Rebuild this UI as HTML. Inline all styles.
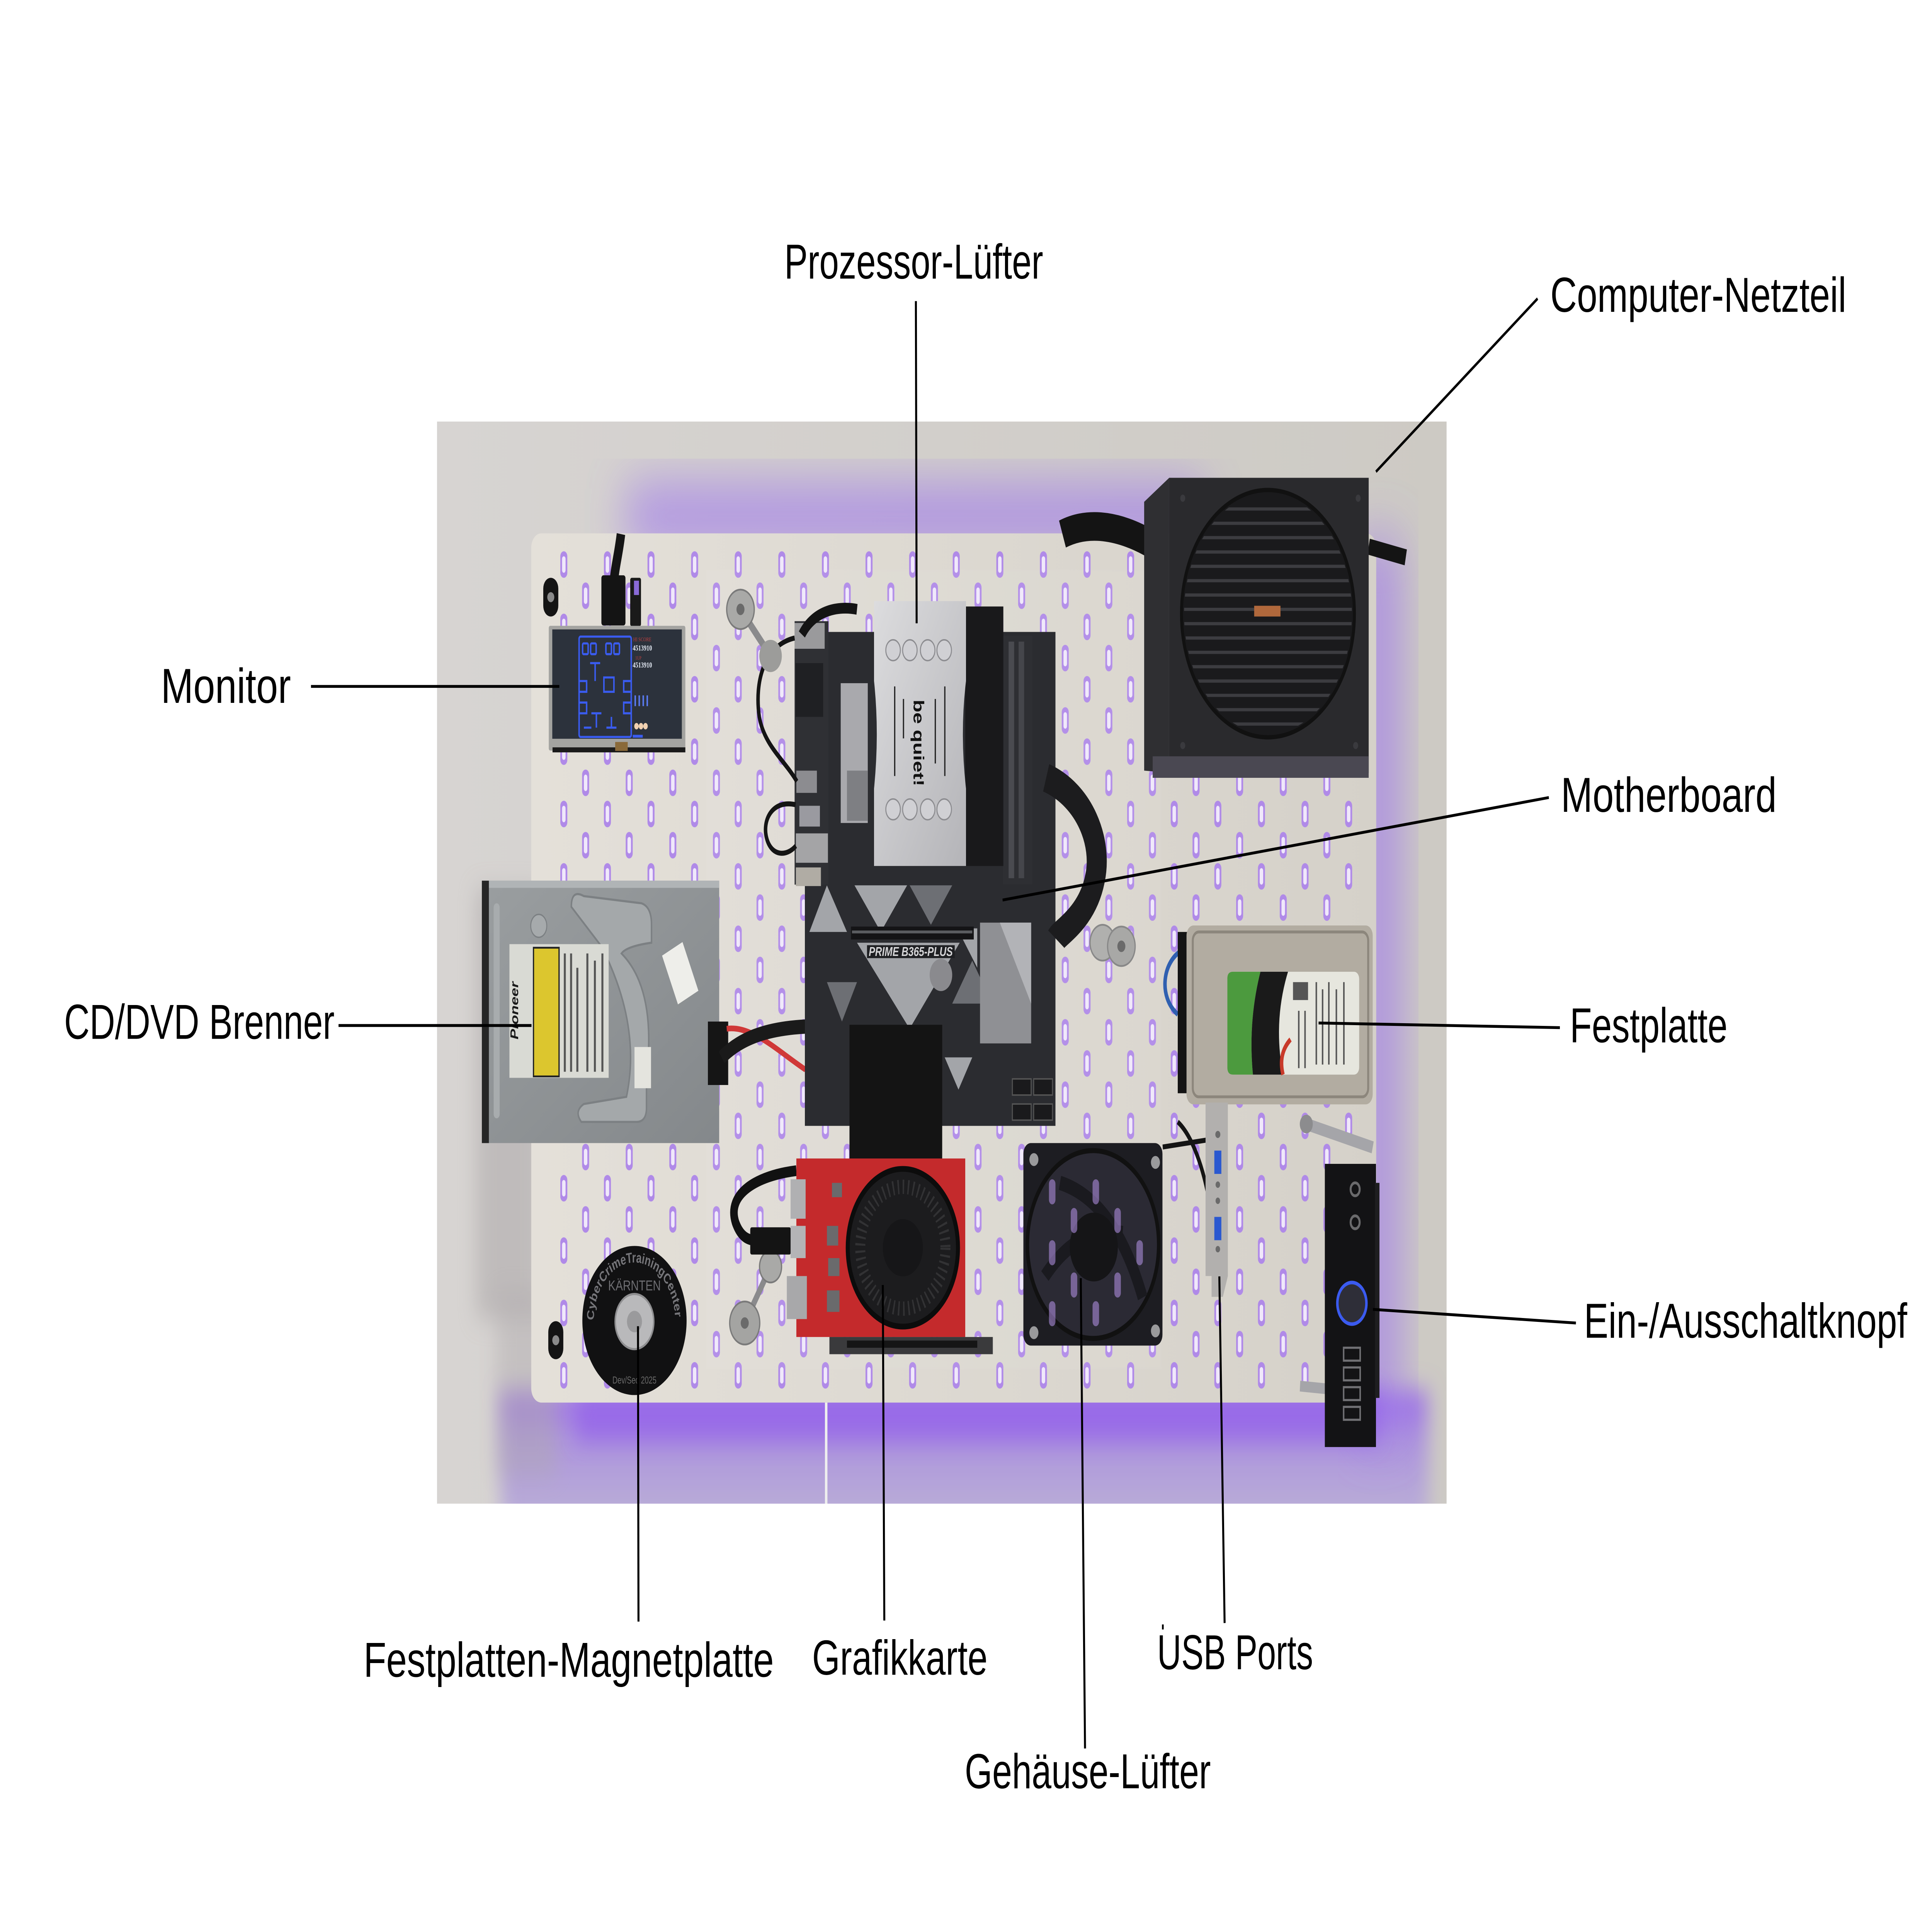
<!DOCTYPE html>
<html><head><meta charset="utf-8">
<style>
html,body{margin:0;padding:0;background:#fff;width:100%;height:100%;overflow:hidden;}
svg{display:block;width:100vw;height:100vh;}
.lbl{font-family:"Liberation Sans",sans-serif;font-size:137px;fill:#000;}
</style></head>
<body>
<svg xmlns="http://www.w3.org/2000/svg" width="100%" height="100%" viewBox="0 0 7710 5390" preserveAspectRatio="none">
<defs>
 <clipPath id="photo"><rect x="1744" y="1176" width="4029" height="3019"/></clipPath>
 <clipPath id="psufan"><circle cx="5060" cy="1712" r="335"/></clipPath>
 <filter id="b1" x="-50%" y="-50%" width="200%" height="200%"><feGaussianBlur stdDeviation="80"/></filter>
 <filter id="b2" x="-50%" y="-50%" width="200%" height="200%"><feGaussianBlur stdDeviation="35"/></filter>
 <linearGradient id="wall" x1="0" y1="0" x2="1" y2="0">
  <stop offset="0" stop-color="#d7d4d2"/><stop offset="1" stop-color="#cdcac4"/>
 </linearGradient>
 <linearGradient id="peg" x1="0" y1="0" x2="1" y2="0">
  <stop offset="0" stop-color="#e4e0d9"/><stop offset="1" stop-color="#d5d1c9"/>
 </linearGradient>
 <linearGradient id="under" x1="0" y1="0" x2="0" y2="1">
  <stop offset="0" stop-color="#9c6fe6"/><stop offset="0.35" stop-color="#ad95dc"/><stop offset="1" stop-color="#bdb4d6"/>
 </linearGradient>
 <linearGradient id="silver" x1="0" y1="0" x2="1" y2="1">
  <stop offset="0" stop-color="#dcdcde"/><stop offset="1" stop-color="#b4b4b8"/>
 </linearGradient>
 <linearGradient id="dvd" x1="0" y1="0" x2="1" y2="1">
  <stop offset="0" stop-color="#9a9ea0"/><stop offset="1" stop-color="#84888b"/>
 </linearGradient>
 <pattern id="slots" patternUnits="userSpaceOnUse" x="2236" y="1538" width="174" height="174">
  <rect x="0" y="0" width="28" height="74" rx="14" fill="#b08ae8"/>
  <rect x="7" y="14" width="14" height="46" rx="7" fill="#f0e8fb"/>
  <rect x="87" y="87" width="28" height="74" rx="14" fill="#b08ae8"/>
  <rect x="94" y="101" width="14" height="46" rx="7" fill="#f0e8fb"/>
 </pattern>
</defs>

<rect x="0" y="0" width="7710" height="5390" fill="#ffffff"/>

<!-- ================= PHOTO ================= -->
<g clip-path="url(#photo)">
 <rect x="1744" y="1176" width="4029" height="3019" fill="url(#wall)"/>
 <rect x="2000" y="3880" width="3700" height="400" fill="url(#under)" filter="url(#b2)"/>
 <rect x="2500" y="1360" width="2300" height="160" fill="#9a6ff0" opacity="0.7" filter="url(#b1)"/>
 <rect x="5420" y="1500" width="160" height="2500" fill="#9a6ff0" opacity="0.7" filter="url(#b1)"/>
 <rect x="2300" y="3880" width="3200" height="140" fill="#9565ea" opacity="0.8" filter="url(#b2)"/>
 <rect x="1900" y="2480" width="260" height="1200" fill="#a9a4a6" opacity="0.5" filter="url(#b2)"/>
 <rect x="1980" y="3600" width="240" height="520" fill="#b0abae" opacity="0.45" filter="url(#b2)"/>

 <!-- pegboard -->
 <rect x="2120" y="1488" width="3372" height="2425" rx="40" fill="url(#peg)"/>
 <rect x="2200" y="1530" width="3230" height="2350" fill="url(#slots)"/>

 <!-- mounting tabs -->
 <rect x="2168" y="1612" width="60" height="108" rx="30" fill="#141414"/>
 <circle cx="2198" cy="1666" r="14" fill="#8a8a8a"/>
 <rect x="2188" y="3686" width="60" height="106" rx="30" fill="#141414"/>
 <circle cx="2218" cy="3739" r="14" fill="#8a8a8a"/>

 <!-- acrylic sheet -->
 <rect x="2818" y="1592" width="1815" height="2226" fill="#ffffff" opacity="0.05" stroke="#f4f2f8" stroke-width="5" stroke-opacity="0.7"/>

 <!-- ===== Monitor ===== -->
 <path d="M2478,1490 C2470,1540 2455,1580 2450,1620" stroke="#151515" stroke-width="34" fill="none"/>
 <rect x="2400" y="1605" width="96" height="140" rx="8" fill="#141414"/>
 <rect x="2515" y="1612" width="43" height="135" rx="6" fill="#1a1a1a"/>
 <rect x="2530" y="1620" width="20" height="40" fill="#8a6ad8"/>
 <rect x="2190" y="1746" width="545" height="348" rx="6" fill="#a3a3a0"/>
 <rect x="2204" y="1756" width="517" height="305" fill="#2c323c"/>
 <rect x="2205" y="2085" width="530" height="14" fill="#1a1a1a"/>
 <rect x="2455" y="2070" width="50" height="25" fill="#8a6a3a"/>
 <g fill="none" stroke="#3a5cf0" stroke-width="6">
  <rect x="2311" y="1776" width="208" height="280" rx="6"/>
  <rect x="2325" y="1795" width="22" height="30" rx="4"/>
  <rect x="2357" y="1795" width="22" height="30" rx="4"/>
  <rect x="2418" y="1795" width="22" height="30" rx="4"/>
  <rect x="2450" y="1795" width="22" height="30" rx="4"/>
  <path d="M2311,1900 h30 v30 h-30 M2519,1900 h-30 v30 h30 M2355,1850 h40 M2375,1850 v50 M2410,1890 h40 v40 h-40 z M2311,1960 h30 v30 h-30 M2519,1960 h-30 v30 h30 M2360,1990 h40 M2380,1990 v40 M2420,2030 h40 M2440,2000 v30 M2330,2030 h30"/>
 </g>
 <text x="2527" y="1789" font-family="Liberation Serif,serif" font-size="16" fill="#c04040">HI SCORE</text>
 <text x="2525" y="1815" font-family="Liberation Serif,serif" font-size="22" font-weight="bold" fill="#e8eef8">4513910</text>
 <text x="2535" y="1840" font-family="Liberation Serif,serif" font-size="14" fill="#c04040">1UP</text>
 <text x="2525" y="1862" font-family="Liberation Serif,serif" font-size="22" font-weight="bold" fill="#e8eef8">4513910</text>
 <circle cx="2540" cy="2026" r="9" fill="#f0d0b0"/><circle cx="2558" cy="2026" r="9" fill="#f0d0b0"/><circle cx="2576" cy="2026" r="9" fill="#f0d0b0"/>
 <rect x="2525" y="2050" width="40" height="8" fill="#3a5cf0"/>
 <g fill="#5a7af0"><rect x="2532" y="1940" width="6" height="30"/><rect x="2548" y="1940" width="6" height="30"/><rect x="2564" y="1940" width="6" height="30"/><rect x="2580" y="1940" width="6" height="30"/></g>

 <!-- ===== DVD drive ===== -->
 <rect x="1923" y="2457" width="947" height="732" fill="url(#dvd)"/>
 <rect x="1923" y="2457" width="947" height="20" fill="#b0b4b6"/>
 <rect x="1923" y="2457" width="28" height="732" fill="#262626"/>
 <rect x="1970" y="2520" width="24" height="600" rx="12" fill="#a8acae"/>
 <path d="M2280,2530 Q2280,2480 2330,2500 L2560,2520 Q2600,2530 2600,2580 L2600,2630 Q2500,2640 2480,2660 Q2620,2760 2580,3000 L2580,3090 Q2580,3130 2540,3130 L2320,3130 Q2290,3100 2330,3080 L2500,3060 Q2560,2860 2400,2640 Z" fill="#a4a8aa" stroke="#7c8083" stroke-width="6"/>
 <circle cx="2150" cy="2583" r="32" fill="#a6aaac" stroke="#7c8083" stroke-width="4"/>
 <rect x="2033" y="2634" width="396" height="373" fill="#d9dad4"/>
 <rect x="2129" y="2644" width="102" height="359" fill="#dcc62e" stroke="#222" stroke-width="5"/>
 <text x="0" y="0" transform="translate(2068,2900) rotate(-90)" font-family="Liberation Sans,sans-serif" font-weight="bold" font-style="italic" font-size="44" fill="#1a1a1a">Pioneer</text>
 <g fill="#555"><rect x="2250" y="2660" width="8" height="330"/><rect x="2275" y="2660" width="8" height="330"/><rect x="2300" y="2700" width="8" height="290"/><rect x="2340" y="2660" width="8" height="330"/><rect x="2370" y="2680" width="8" height="310"/><rect x="2400" y="2660" width="8" height="330"/></g>
 <rect x="2670" y="2640" width="90" height="150" fill="#eeeeea" transform="rotate(-25 2715 2716)"/>
 <rect x="2532" y="2921" width="66" height="115" fill="#e4e4de"/>
 <rect x="2825" y="2850" width="81" height="177" fill="#151515"/>
 <path d="M2900,2870 C3000,2860 3100,2930 3214,2984" stroke="#d03838" stroke-width="16" fill="none"/>
 <path d="M2880,2950 C2950,2900 3050,2870 3214,2864" stroke="#1a1a1a" stroke-width="40" fill="none"/>

 <!-- ===== Motherboard ===== -->
 <rect x="3212" y="1763" width="1000" height="1378" fill="#2b2c30"/>
 <g fill="#a3a5a9">
  <polygon points="3230,2600 3380,2600 3300,2470"/>
  <polygon points="3410,2470 3620,2470 3515,2600"/>
  <polygon points="3420,2630 3830,2630 3630,2870"/>
  <polygon points="3770,2950 3880,2950 3825,3040"/>
  <polygon points="3820,2590 3900,2590 3900,2700"/>
 </g>
 <g fill="#6d6f74">
  <polygon points="3630,2470 3800,2470 3715,2580"/>
  <polygon points="3300,2740 3420,2740 3360,2850"/>
  <polygon points="3880,2680 3960,2800 3800,2800"/>
 </g>
 <rect x="3396" y="2585" width="490" height="36" fill="#141416"/>
 <rect x="3400" y="2596" width="480" height="8" fill="#5a5c60"/>
 <rect x="3460" y="2637" width="350" height="36" fill="#1e1f22"/>
 <text x="3467" y="2667" font-family="Liberation Sans,sans-serif" font-style="italic" font-weight="bold" font-size="36" fill="#d6d6d8" textLength="335" lengthAdjust="spacingAndGlyphs">PRIME B365-PLUS</text>
 <circle cx="3755" cy="2720" r="45" fill="#8a8a8e"/>
 <rect x="3911" y="2574" width="204" height="337" fill="#8f9094"/>
 <polygon points="3990,2574 4115,2574 4115,2800" fill="#b2b3b7"/>
 <g fill="#1a1a1c" stroke="#555" stroke-width="4">
  <rect x="4040" y="3010" width="75" height="45"/><rect x="4125" y="3010" width="75" height="45"/>
  <rect x="4040" y="3080" width="75" height="45"/><rect x="4125" y="3080" width="75" height="45"/>
 </g>
 <rect x="3390" y="2859" width="370" height="380" fill="#141414"/>
 <rect x="3171" y="1733" width="135" height="735" fill="#2f3034"/>
 <rect x="3171" y="1738" width="120" height="72" fill="#9a9a9c"/>
 <rect x="3175" y="1850" width="110" height="150" fill="#1f2023"/>
 <rect x="3178" y="2150" width="82" height="62" fill="#8c8c90"/>
 <rect x="3190" y="2248" width="82" height="58" fill="#9a9aa0"/>
 <rect x="3176" y="2325" width="128" height="82" fill="#a4a4a6"/>
 <rect x="3176" y="2420" width="100" height="52" fill="#b0aca4"/>
 <rect x="3355" y="1906" width="108" height="390" fill="#a9a9ad"/>
 <polygon points="3380,2150 3463,2150 3463,2290 3380,2290" fill="#7e7f83"/>
 <g fill="none" stroke="#141414" stroke-width="14">
  <path d="M3171,1780 C3050,1800 3010,1900 3030,2000 C3050,2080 3130,2120 3180,2180"/>
  <path d="M3175,2245 C3080,2230 3040,2290 3060,2340 C3080,2390 3140,2390 3176,2360"/>
 </g>
 <path d="M3200,1770 C3250,1700 3350,1690 3420,1700" stroke="#141414" stroke-width="30" fill="none"/>
 <rect x="4003" y="1773" width="117" height="694" fill="#2e2f33"/>
 <rect x="4025" y="1790" width="22" height="660" fill="#4a4b50"/>
 <rect x="4065" y="1790" width="22" height="660" fill="#45464b"/>
 <rect x="3852" y="1692" width="152" height="724" fill="#19191b"/>
 <path d="M3488,1677 L3855,1677 L3855,1900 Q3830,2045 3855,2200 L3855,2416 L3488,2416 L3488,2200 Q3510,2045 3488,1900 Z" fill="url(#silver)"/>
 <g fill="#d0d0d4" stroke="#8c8c90" stroke-width="4">
  <circle cx="3564" cy="1814" r="29"/><circle cx="3631" cy="1814" r="29"/><circle cx="3702" cy="1814" r="29"/><circle cx="3768" cy="1814" r="29"/>
  <circle cx="3564" cy="2258" r="29"/><circle cx="3631" cy="2258" r="29"/><circle cx="3702" cy="2258" r="29"/><circle cx="3768" cy="2258" r="29"/>
 </g>
 <g fill="#222">
  <rect x="3568" y="1915" width="5" height="250"/><rect x="3603" y="1950" width="5" height="110"/>
  <rect x="3730" y="1950" width="5" height="180"/><rect x="3768" y="1915" width="5" height="250"/>
 </g>
 <text x="0" y="0" transform="translate(3646,1952) rotate(90)" font-family="Liberation Sans,sans-serif" font-weight="bold" font-size="58" fill="#111">be quiet!</text>
 <path d="M4175,2170 C4330,2220 4400,2350 4370,2450 C4340,2560 4230,2600 4215,2620" stroke="#1c1c1e" stroke-width="80" fill="none"/>

 <!-- washers -->
 <line x1="2955" y1="1700" x2="3075" y2="1830" stroke="#8a8a8c" stroke-width="22"/>
 <circle cx="2955" cy="1700" r="55" fill="#a9a9a7" stroke="#7a7a7a" stroke-width="5"/><circle cx="2955" cy="1700" r="16" fill="#6a6a6a"/>
 <circle cx="3075" cy="1830" r="45" fill="#9c9c9a"/>
 <circle cx="4400" cy="2630" r="50" fill="#b0b0ae" stroke="#888" stroke-width="5"/>
 <circle cx="4475" cy="2640" r="55" fill="#a8a8a6" stroke="#888" stroke-width="5"/><circle cx="4475" cy="2640" r="16" fill="#6a6a6a"/>
 <line x1="3075" y1="3534" x2="2972" y2="3691" stroke="#8a8a8c" stroke-width="20"/>
 <circle cx="3075" cy="3534" r="44" fill="#a9a9a7" stroke="#7a7a7a" stroke-width="5"/>
 <circle cx="2972" cy="3691" r="60" fill="#a4a4a2" stroke="#7a7a7a" stroke-width="5"/><circle cx="2972" cy="3691" r="16" fill="#6a6a6a"/>

 <!-- ===== PSU ===== -->
 <path d="M4240,1490 C4350,1450 4480,1470 4600,1520" stroke="#141414" stroke-width="80" fill="none"/>
 <path d="M5462,1525 L5610,1555" stroke="#141414" stroke-width="45" fill="none"/>
 <polygon points="4566,1400 4666,1333 4666,2156 4566,2150" fill="#2f2f32"/>
 <rect x="4666" y="1333" width="796" height="823" fill="#2a2a2d"/>
 <rect x="4600" y="2110" width="862" height="60" fill="#4a4852"/>
 <circle cx="5060" cy="1712" r="345" fill="#1a1a1c" stroke="#111" stroke-width="12"/>
 <g clip-path="url(#psufan)" stroke="#3c3c40" stroke-width="9">
  <line x1="4700" y1="1420" x2="5420" y2="1420"/><line x1="4700" y1="1460" x2="5420" y2="1460"/><line x1="4700" y1="1500" x2="5420" y2="1500"/>
  <line x1="4700" y1="1540" x2="5420" y2="1540"/><line x1="4700" y1="1580" x2="5420" y2="1580"/><line x1="4700" y1="1620" x2="5420" y2="1620"/>
  <line x1="4700" y1="1660" x2="5420" y2="1660"/><line x1="4700" y1="1700" x2="5420" y2="1700"/><line x1="4700" y1="1740" x2="5420" y2="1740"/>
  <line x1="4700" y1="1780" x2="5420" y2="1780"/><line x1="4700" y1="1820" x2="5420" y2="1820"/><line x1="4700" y1="1860" x2="5420" y2="1860"/>
  <line x1="4700" y1="1900" x2="5420" y2="1900"/><line x1="4700" y1="1940" x2="5420" y2="1940"/><line x1="4700" y1="1980" x2="5420" y2="1980"/>
  <line x1="4700" y1="2020" x2="5420" y2="2020"/>
 </g>
 <rect x="5005" y="1690" width="105" height="30" fill="#b0683c"/>
 <g fill="#3a3a3e"><circle cx="4720" cy="1390" r="10"/><circle cx="5420" cy="1390" r="10"/><circle cx="4720" cy="2080" r="10"/><circle cx="5410" cy="2080" r="10"/></g>

 <!-- ===== HDD ===== -->
 <path d="M4720,2650 C4640,2680 4620,2780 4700,2830" stroke="#2f5fb0" stroke-width="14" fill="none"/>
 <rect x="4700" y="2600" width="75" height="450" fill="#141414"/>
 <rect x="4735" y="2582" width="743" height="499" rx="28" fill="#b2aca1"/>
 <rect x="4760" y="2600" width="700" height="460" rx="24" fill="none" stroke="#8c867c" stroke-width="8"/>
 <rect x="4898" y="2711" width="526" height="287" rx="20" fill="#e6e6de"/>
 <path d="M4898,2730 Q4898,2711 4920,2711 L5030,2711 Q4980,2850 5000,2998 L4920,2998 Q4898,2998 4898,2978 Z" fill="#4c9a3e"/>
 <path d="M5030,2711 L5140,2711 Q5080,2850 5120,2998 L5000,2998 Q4980,2850 5030,2711 Z" fill="#1a1a1a"/>
 <path d="M5120,2998 Q5100,2940 5150,2900" stroke="#c83a2a" stroke-width="14" fill="none"/>
 <g fill="#555"><rect x="5160" y="2740" width="60" height="50"/><rect x="5250" y="2740" width="6" height="230"/><rect x="5275" y="2760" width="6" height="210"/><rect x="5300" y="2740" width="6" height="230"/><rect x="5330" y="2760" width="6" height="210"/><rect x="5360" y="2740" width="6" height="230"/><rect x="5180" y="2820" width="6" height="160"/><rect x="5205" y="2820" width="6" height="160"/></g>

 <!-- ===== GPU ===== -->
 <path d="M3178,3266 C3020,3280 2900,3330 2935,3410 C2960,3460 3000,3462 3030,3460" stroke="#111" stroke-width="30" fill="none"/>
 <rect x="2994" y="3424" width="162" height="76" rx="6" fill="#141414"/>
 <rect x="3178" y="3232" width="674" height="498" fill="#c42a2c"/>
 <rect x="3155" y="3290" width="60" height="110" fill="#b0b0b2"/>
 <rect x="3155" y="3420" width="60" height="90" fill="#b4b4b6"/>
 <rect x="3140" y="3560" width="80" height="120" fill="#a8a8aa"/>
 <g fill="#6a6a6c"><rect x="3320" y="3300" width="40" height="40"/><rect x="3300" y="3420" width="45" height="55"/><rect x="3305" y="3510" width="45" height="50"/><rect x="3300" y="3600" width="50" height="60"/></g>
 <circle cx="3603" cy="3481" r="220" fill="#1c1c1e" stroke="#0c0c0c" stroke-width="16"/>
 <circle cx="3603" cy="3481" r="170" fill="none" stroke="#323234" stroke-width="40" stroke-dasharray="6 14"/>
 <circle cx="3603" cy="3481" r="80" fill="#161618"/>
 <rect x="3310" y="3730" width="652" height="48" fill="#3a3a3c"/>
 <rect x="3380" y="3740" width="520" height="20" fill="#151515"/>

 <!-- ===== Case fan ===== -->
 <rect x="4084" y="3189" width="555" height="565" rx="30" fill="#1d1d22"/>
 <circle cx="4362" cy="3472" r="262" fill="#2b2a34" stroke="#111" stroke-width="14"/>
 <path d="M4230,3300 Q4450,3350 4560,3620 M4170,3560 Q4300,3420 4480,3440" stroke="#1a1a1f" stroke-width="40" fill="none"/>
 <circle cx="4365" cy="3479" r="96" fill="#151517"/>
 <g fill="#9a9a9c"><circle cx="4126" cy="3235" r="18"/><circle cx="4611" cy="3243" r="18"/><circle cx="4126" cy="3718" r="18"/><circle cx="4611" cy="3713" r="18"/></g>
 <g fill="#b795ea" opacity="0.55"><rect x="4186" y="3290" width="26" height="70" rx="13"/><rect x="4360" y="3290" width="26" height="70" rx="13"/><rect x="4273" y="3370" width="26" height="70" rx="13"/><rect x="4447" y="3370" width="26" height="70" rx="13"/><rect x="4186" y="3460" width="26" height="70" rx="13"/><rect x="4535" y="3460" width="26" height="70" rx="13"/><rect x="4273" y="3550" width="26" height="70" rx="13"/><rect x="4447" y="3550" width="26" height="70" rx="13"/><rect x="4186" y="3630" width="26" height="70" rx="13"/><rect x="4360" y="3630" width="26" height="70" rx="13"/></g>

 <path d="M4640,3200 L4820,3180 M4700,3130 C4760,3170 4800,3260 4820,3330" stroke="#141414" stroke-width="14" fill="none"/>
 <!-- USB bracket -->
 <polygon points="4811,3076 4900,3076 4900,3560 4880,3618 4835,3618 4835,3560 4811,3560" fill="#b2b0ae"/>
 <rect x="4846" y="3210" width="28" height="65" fill="#2a58d0"/>
 <rect x="4846" y="3395" width="28" height="65" fill="#2a58d0"/>
 <g fill="#6a6a6a"><circle cx="4860" cy="3165" r="10"/><circle cx="4860" cy="3305" r="9"/><circle cx="4860" cy="3350" r="9"/><circle cx="4860" cy="3485" r="9"/></g>

 <!-- ===== Front panel ===== -->
 <line x1="5213" y1="3136" x2="5478" y2="3201" stroke="#a5a5a9" stroke-width="34"/>
 <circle cx="5213" cy="3136" r="26" fill="#8c8c8e"/>
 <line x1="5188" y1="3867" x2="5300" y2="3875" stroke="#a5a5a9" stroke-width="30"/>
 <rect x="5287" y="3247" width="204" height="790" fill="#131315"/>
 <rect x="5487" y="3300" width="18" height="600" fill="#1e1e20"/>
 <g fill="none" stroke="#6a6a6c" stroke-width="8"><circle cx="5408" cy="3318" r="18"/><circle cx="5408" cy="3410" r="18"/></g>
 <circle cx="5395" cy="3636" r="58" fill="#2e2e38" stroke="#3b5bf0" stroke-width="10"/>
 <g fill="none" stroke="#707074" stroke-width="6"><rect x="5362" y="3760" width="66" height="36"/><rect x="5362" y="3815" width="66" height="36"/><rect x="5362" y="3870" width="66" height="36"/><rect x="5362" y="3925" width="66" height="36"/></g>

 <!-- ===== Platter ===== -->
 <circle cx="2532" cy="3684" r="208" fill="#111112"/>
 <path id="arc" d="M2370,3684 A162,162 0 0 1 2694,3684" fill="none"/>
 <text font-family="Liberation Sans,sans-serif" font-weight="bold" font-size="40" fill="#76767a"><textPath href="#arc" textLength="500" lengthAdjust="spacingAndGlyphs">CyberCrimeTrainingCenter</textPath></text>
 <text x="2532" y="3600" text-anchor="middle" font-family="Liberation Sans,sans-serif" font-size="40" fill="#6e6e72" textLength="210" lengthAdjust="spacingAndGlyphs">KÄRNTEN</text>
 <circle cx="2532" cy="3687" r="77" fill="#b9b9bb" stroke="#8e8e90" stroke-width="6"/>
 <circle cx="2532" cy="3687" r="30" fill="#9a9a9c"/>
 <text x="2532" y="3860" text-anchor="middle" font-family="Liberation Sans,sans-serif" font-size="28" fill="#6a6a6a">Dev/Sec 2025</text>

 <rect x="3292" y="3913" width="10" height="290" fill="#eeeeee"/>
</g>

<!-- ================= CONNECTORS ================= -->
<g stroke="#000" stroke-width="8" fill="none" stroke-linecap="butt">
 <line x1="3655" y1="840" x2="3658" y2="1739"/>
 <line x1="6136" y1="833" x2="5491" y2="1316"/>
 <line x1="1241" y1="1915" x2="2232" y2="1915"/>
 <line x1="6181" y1="2225" x2="4001" y2="2511"/>
 <line x1="1351" y1="2861" x2="2121" y2="2861"/>
 <line x1="6225" y1="2867" x2="5262" y2="2854"/>
 <line x1="6289" y1="3691" x2="5479" y2="3653"/>
 <line x1="2546" y1="3700" x2="2548" y2="4524"/>
 <line x1="3523" y1="3585" x2="3529" y2="4521"/>
 <line x1="4313" y1="3566" x2="4330" y2="4878"/>
 <line x1="4866" y1="3561" x2="4887" y2="4528"/>
</g>
<rect x="4637" y="4532" width="7" height="14" fill="#000"/>

<!-- ================= LABELS ================= -->
<text class="lbl" x="3130" y="777" textLength="1033" lengthAdjust="spacingAndGlyphs">Prozessor-Lüfter</text>
<text class="lbl" x="6187" y="870" textLength="1181" lengthAdjust="spacingAndGlyphs">Computer-Netzteil</text>
<text class="lbl" x="642" y="1961" textLength="519" lengthAdjust="spacingAndGlyphs">Monitor</text>
<text class="lbl" x="6229" y="2265" textLength="861" lengthAdjust="spacingAndGlyphs">Motherboard</text>
<text class="lbl" x="256" y="2898" textLength="1079" lengthAdjust="spacingAndGlyphs">CD/DVD Brenner</text>
<text class="lbl" x="6265" y="2908" textLength="629" lengthAdjust="spacingAndGlyphs">Festplatte</text>
<text class="lbl" x="6321" y="3732" textLength="1290" lengthAdjust="spacingAndGlyphs">Ein-/Ausschaltknopf</text>
<text class="lbl" x="1451" y="4678" textLength="1637" lengthAdjust="spacingAndGlyphs">Festplatten-Magnetplatte</text>
<text class="lbl" x="3241" y="4672" textLength="700" lengthAdjust="spacingAndGlyphs">Grafikkarte</text>
<text class="lbl" x="4618" y="4657" textLength="622" lengthAdjust="spacingAndGlyphs">USB Ports</text>
<text class="lbl" x="3850" y="4989" textLength="982" lengthAdjust="spacingAndGlyphs">Gehäuse-Lüfter</text>
</svg>
</body></html>
